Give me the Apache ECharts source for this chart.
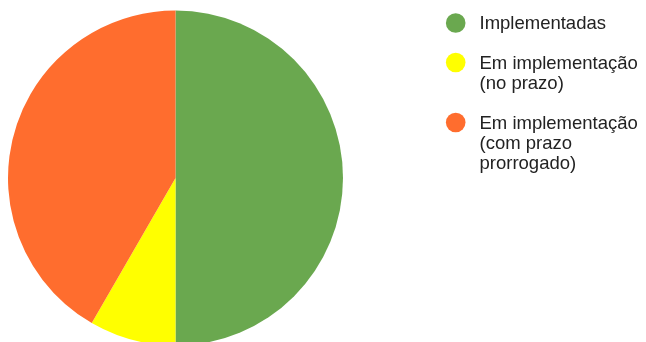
<!DOCTYPE html>
<html>
<head>
<meta charset="utf-8">
<script src="https://cdn.jsdelivr.net/npm/echarts@6/dist/echarts.min.js"></script>
<style>
  html, body { margin: 0; padding: 0; background: #fff; }
  #chart { width: 646px; height: 342px; }
</style>
</head>
<body>
<div id="chart"></div>
<script>
// Status categories (legend lines split where they wrap)
const categories = [
  'Implementadas',
  'Em implementação (no prazo)',
  'Em implementação (com prazo prorrogado)'
];
const legendLines = [
  ['Implementadas'],
  ['Em implementação', '(no prazo)'],
  ['Em implementação', '(com prazo', 'prorrogado)']
];
const values = [6, 1, 5];
const colors = ['#6aa84f', '#ffff00', '#ff6d2e'];

const FONT_FAMILY = 'Arial, "Liberation Sans", sans-serif';
const FONT_SIZE = 18.5;
const LINE_H = 20;
const legendCenters = [23, 62.5, 122.5];

// Legend: colored dot plus wrapped label lines
const graphic = [];
categories.forEach((name, i) => {
  const cy = legendCenters[i];
  graphic.push({
    type: 'circle',
    shape: { cx: 455.7, cy: cy, r: 9.8 },
    style: { fill: colors[i] },
    silent: true
  });
  legendLines[i].forEach((line, j) => {
    graphic.push({
      type: 'text',
      x: 479.5,
      y: cy + 1.2 + j * LINE_H,
      style: {
        text: line,
        fill: '#222222',
        fontFamily: FONT_FAMILY,
        fontSize: FONT_SIZE,
        align: 'left',
        verticalAlign: 'middle'
      },
      silent: true
    });
  });
});

const chart = echarts.init(document.getElementById('chart'), null, { renderer: 'canvas' });
chart.setOption({
  animation: false,
  color: colors,
  legend: { show: false },
  series: [{
    type: 'pie',
    center: [175.5, 178],
    radius: 167.5,
    startAngle: 90,
    clockwise: true,
    label: { show: false },
    labelLine: { show: false },
    emphasis: { disabled: true },
    itemStyle: { borderWidth: 0 },
    data: categories.map((name, i) => ({ name: name, value: values[i] }))
  }],
  graphic: graphic
});
</script>
</body>
</html>
